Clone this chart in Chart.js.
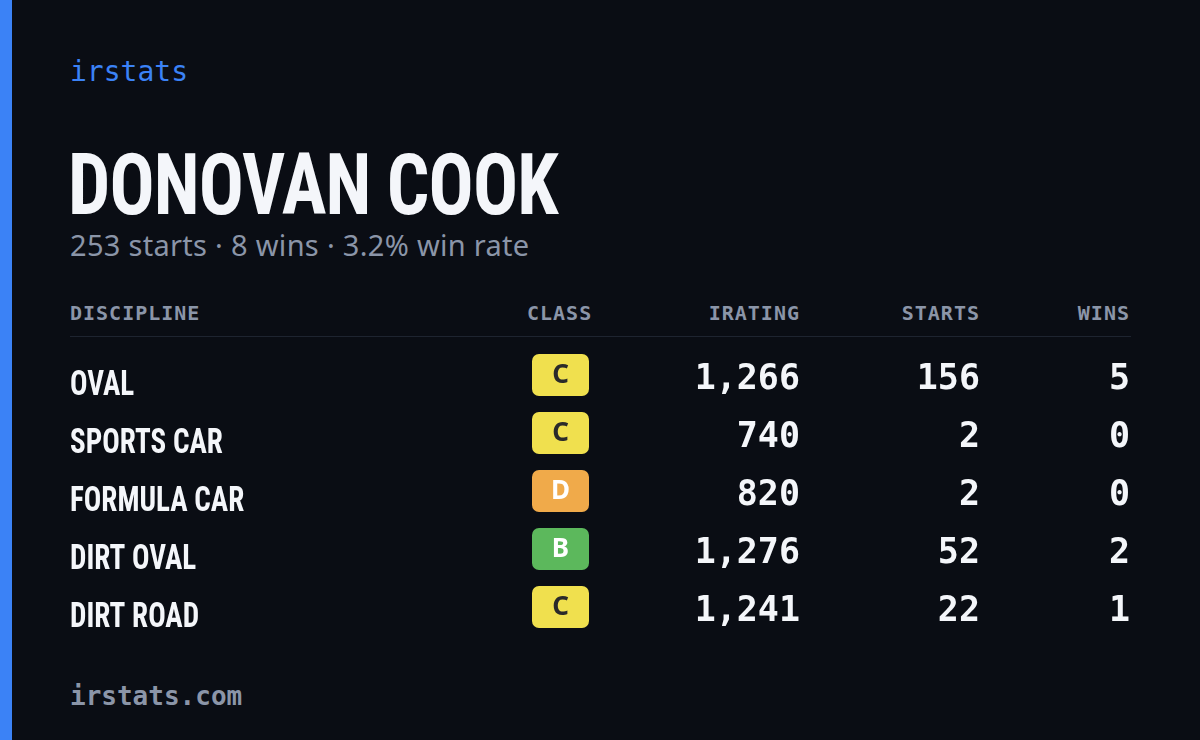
<!DOCTYPE html>
<html><head><meta charset="utf-8">
<script src="https://cdn.jsdelivr.net/npm/chart.js@4"></script>
<style>
body{margin:0;width:1200px;height:740px;background:#0a0d14;position:relative;overflow:hidden;font-family:"Noto Sans",sans-serif}
#bar{position:absolute;left:0;top:0;width:12px;height:740px;background:#3b82f6}
.t{position:absolute;white-space:nowrap}
#brand{left:70px;top:55px;font:500 28px "DejaVu Sans Mono",monospace;color:#3b82f6}
#name{left:68px;top:134px;font:bold 86px "Liberation Sans Narrow","Roboto Condensed",sans-serif;color:#f4f6fa;transform:scaleX(0.87);transform-origin:left;letter-spacing:-1px}
#sub{left:70px;top:225px;font:29px "Noto Sans",sans-serif;color:#8b95a8;letter-spacing:0.3px}
.h{top:301px;font:bold 20px "DejaVu Sans Mono",monospace;color:#8b95a8;letter-spacing:1px}
#line{position:absolute;left:70px;top:336px;width:1061px;height:1px;background:#1e2430}
#foot{left:70px;top:681px;font:bold 26px "DejaVu Sans Mono",monospace;color:#8b95a8}
#wrap{position:absolute;left:0;top:349px;width:1200px;height:290px}
</style></head><body>
<div id="bar"></div>
<div class="t" id="brand">irstats</div>
<div class="t" id="name">DONOVAN COOK</div>
<div class="t" id="sub">253 starts · 8 wins · 3.2% win rate</div>
<div class="t h" style="left:70px">DISCIPLINE</div>
<div class="t h" style="left:527px">CLASS</div>
<div class="t h" style="right:400px">IRATING</div>
<div class="t h" style="right:220px">STARTS</div>
<div class="t h" style="right:70px">WINS</div>
<div id="line"></div>
<div class="t" id="foot">irstats.com</div>
<div id="wrap"><canvas id="c"></canvas></div>
<script>
const disciplines=["OVAL","SPORTS CAR","FORMULA CAR","DIRT OVAL","DIRT ROAD"];
const classes=["C","C","D","B","C"];
const iratings=[1266,740,820,1276,1241];
const starts=[156,2,2,52,22];
const wins=[5,0,0,2,1];
const classColors={B:"#5cb85c",C:"#f0e04e",D:"#f0aa4a"};
const classText={B:"#ffffff",C:"#2a2a2a",D:"#ffffff"};

const tablePlugin={id:"table",afterDatasetsDraw(chart){
  const ctx=chart.ctx, y=chart.scales.y;
  ctx.save();
  disciplines.forEach((d,i)=>{
    const py=y.getPixelForValue(i);
    ctx.fillStyle="#f4f6fa";
    ctx.textBaseline="middle";
    ctx.save();
    ctx.translate(70,py+8);ctx.scale(0.83,1);
    ctx.font='bold 35px "Liberation Sans Narrow","Roboto Condensed",sans-serif';
    ctx.textAlign="left";ctx.fillText(d,0,0);ctx.restore();
    const c=classes[i];
    ctx.fillStyle=classColors[c];
    ctx.beginPath();ctx.roundRect(532,py-24,57,42,7);ctx.fill();
    ctx.fillStyle=classText[c];ctx.font='bold 26px "Noto Sans",sans-serif';ctx.textAlign="center";
    ctx.fillText(c,560.5,py-2);
    ctx.fillStyle="#f4f6fa";ctx.font='bold 35px "DejaVu Sans Mono",monospace';ctx.textAlign="right";
    ctx.fillText(iratings[i].toLocaleString("en-US"),800,py+2);
    ctx.fillText(String(starts[i]),980,py+2);
    ctx.fillText(String(wins[i]),1130,py+2);
  });
  ctx.restore();
}};
new Chart(document.getElementById("c"),{
  type:"scatter",
  data:{labels:disciplines,datasets:[{data:disciplines.map((d,i)=>({x:iratings[i],y:d})),pointRadius:0}]},
  options:{responsive:true,maintainAspectRatio:false,animation:false,
    layout:{padding:0},
    plugins:{legend:{display:false},tooltip:{enabled:false}},
    scales:{y:{type:"category",labels:disciplines,offset:true,display:false},
            x:{type:"linear",display:false}}},
  plugins:[tablePlugin]
});
</script>
</body></html>
